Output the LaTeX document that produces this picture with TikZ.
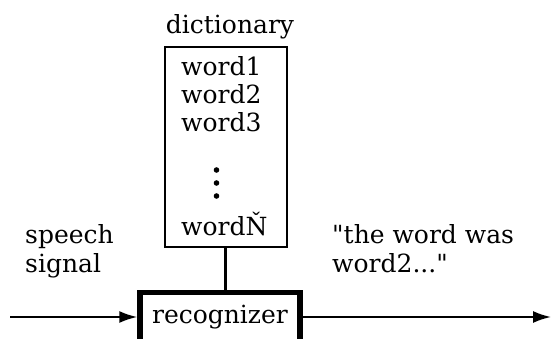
\documentclass[tikz,border=0pt]{standalone}
\usepackage{fontspec}
\setmainfont{DejaVu Serif}
\usetikzlibrary{arrows.meta,positioning}

\begin{document}
\begin{tikzpicture}[
    x=1pt, y=-1pt,
    every node/.style={font=\fontsize{25}{29}\selectfont, inner sep=0pt},
    dictbox/.style={draw, line width=2pt, minimum width=122pt, minimum height=200pt},
    recbox/.style={draw, line width=5.5pt, minimum width=160pt, minimum height=49pt},
    entry/.style={anchor=base west},
    wire/.style={line width=2.2pt},
    signal/.style={line width=2pt, -{Latex[length=18pt,width=12pt]}}
]
\useasboundingbox (0,0) rectangle (552,339);

% word list
\node[dictbox] (dict) at (225.5,147.2) {};
\node[anchor=base] (dictlabel) at (230,34) {dictionary};
\node[entry] (w1) at (181,76) {word1};
\node[entry] (w2) at (181,104) {word2};
\node[entry] (w3) at (181,132) {word3};
\foreach \y in {170,183,196}
    \fill (216.5,\y) circle (2.8pt);
\node[entry] (wN) at (181,236) {wordŇ};

% recognizer and its signals
\node[recbox] (rec) at (220,317) {recognizer};
\coordinate (in) at (10,317);
\coordinate (out) at (551,317);
\draw[wire] (dict.south) -- (dict.south |- rec.north);
\draw[signal] (in) -- (rec.west);
\draw[signal] (rec.east) -- (out);

\node[align=left, anchor=base west] (speech) at (25,273) {speech\\signal};
\node[align=left, anchor=base west] (result) at (332,273) {\textquotedbl the word was\\word2...\textquotedbl};
\end{tikzpicture}
\end{document}
